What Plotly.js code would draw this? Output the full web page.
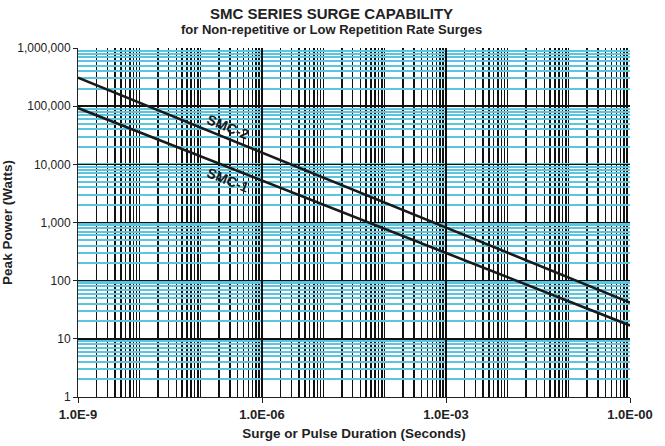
<!DOCTYPE html>
<html><head><meta charset="utf-8">
<script src="https://cdn.plot.ly/plotly-3.0.1.min.js"></script>
<style>html,body{margin:0;padding:0;background:#fff;}#chart{width:665px;height:446px;}</style>
</head><body><div id="chart"></div>
<script>
// Data
const durations = [1e-9, 1e0];           // seconds
const smc2Power = [310000, 42];          // watts
const smc1Power = [93000, 17];           // watts
const seriesNames = ['SMC-2', 'SMC-1'];
const xTickVals = [1e-9, 1e-6, 1e-3, 1];
const xTickText = ['1.0E-9', '1.0E-06', '1.0E-03', '1.0E-00'];
const yTickVals = [1, 10, 100, 1000, 10000, 100000, 1000000];
const yTickText = ['1', '10', '100', '1,000', '10,000', '100,000', '1,000,000'];
const labelPos = {x: [2.8e-7, 2.8e-7], y: [43500, 5300]};
const titleText = 'SMC SERIES SURGE CAPABILITY';
const subtitleText = 'for Non-repetitive or Low Repetition Rate Surges';

const font = 'Liberation Sans, Arial, sans-serif';
const lineStyle = {color: '#1a1a1a', width: 2.6};

const traces = [
  {x: durations, y: smc2Power, name: seriesNames[0], mode: 'lines', line: lineStyle},
  {x: durations, y: smc1Power, name: seriesNames[1], mode: 'lines', line: lineStyle}
];

const annotations = seriesNames.map((n, i) => ({
  x: Math.log10(labelPos.x[i]), y: Math.log10(labelPos.y[i]), xref: 'x', yref: 'y',
  text: '<b>' + n + '</b>', showarrow: false, textangle: 22,
  font: {family: font, size: 14, color: '#1a1a1a'}
}));
annotations.push({
  x: 0.46, y: 1.10, xref: 'paper', yref: 'paper', xanchor: 'center', yanchor: 'middle',
  text: '<b>' + titleText + '</b>', showarrow: false,
  font: {family: font, size: 15, color: '#222'}
});
annotations.push({
  x: 0.46, y: 1.054, xref: 'paper', yref: 'paper', xanchor: 'center', yanchor: 'middle',
  text: '<b>' + subtitleText + '</b>', showarrow: false,
  font: {family: font, size: 13, color: '#222'}
});

const layout = {
  width: 665, height: 446,
  margin: {l: 78, r: 35, t: 48, b: 49},
  paper_bgcolor: '#fff', plot_bgcolor: '#fff',
  showlegend: false,
  xaxis: {
    type: 'log', range: [-9, 0],
    tickmode: 'array', tickvals: xTickVals, ticktext: xTickText,
    tickfont: {family: font, size: 13, color: '#222', weight: 'bold'},
    ticks: 'outside', ticklen: 5, tickcolor: '#222', tickwidth: 1,
    showline: true, linecolor: '#222', linewidth: 1,
    showgrid: true, gridcolor: '#111', gridwidth: 1.5,
    minor: {dtick: 'D1', showgrid: true, gridcolor: '#111', gridwidth: 1.5, ticks: ''},
    zeroline: false,
    title: {text: '<b>Surge or Pulse Duration (Seconds)</b>', standoff: 7,
      font: {family: font, size: 13.5, color: '#222'}}
  },
  yaxis: {
    type: 'log', range: [0, 6],
    tickmode: 'array', tickvals: yTickVals, ticktext: yTickText,
    tickfont: {family: font, size: 12, color: '#222'},
    ticks: 'outside', ticklen: 4, tickcolor: '#222', tickwidth: 1,
    showline: true, linecolor: '#222', linewidth: 1,
    showgrid: true, gridcolor: '#111', gridwidth: 1.5,
    minor: {dtick: 'D1', showgrid: true, gridcolor: '#5bc5df', gridwidth: 2, ticks: ''},
    zeroline: false,
    title: {text: '<b>Peak Power (Watts)</b>', standoff: 10,
      font: {family: font, size: 13.5, color: '#222'}}
  },
  annotations: annotations
};

Plotly.newPlot('chart', traces, layout, {displayModeBar: false, staticPlot: true});
</script>
</body></html>
